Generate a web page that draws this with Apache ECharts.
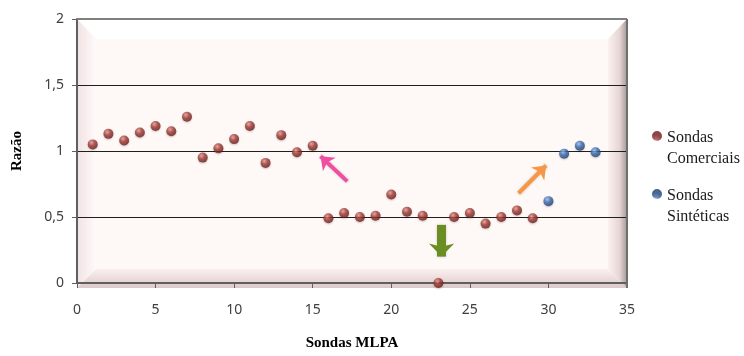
<!DOCTYPE html>
<html>
<head>
<meta charset="utf-8">
<title>Razão</title>
<style>html,body{margin:0;padding:0;background:#fff}#chart{width:744px;height:356px}</style>
</head>
<body>
<div id="chart"></div>
<script src="https://cdn.jsdelivr.net/npm/echarts@6/dist/echarts.min.js"></script>
<script>
// sondas comerciais 1..29, sintéticas 30..33
const comerciaisX = [1,2,3,4,5,6,7,8,9,10,11,12,13,14,15,16,17,18,19,20,21,22,23,24,25,26,27,28,29];
const comerciaisY = [1.05,1.13,1.08,1.14,1.19,1.15,1.26,0.95,1.02,1.09,1.19,0.91,1.12,0.99,1.04,0.49,0.53,0.50,0.51,0.67,0.54,0.51,0,0.50,0.53,0.45,0.50,0.55,0.49];
const sinteticasX = [30,31,32,33];
const sinteticasY = [0.62,0.98,1.04,0.99];
const xTicks = [0,35,5];
const yTicks = [0,2,0.5];

// setas (coordenadas em dados)
const setaRosa = [[17.2,0.77],[15.5,0.96]];
const setaLaranja = [[28.1,0.68],[29.85,0.89]];
const setaVerde = [[23.2,0.44],[23.2,0.20]];

const chart = echarts.init(document.getElementById('chart'));

const G = {l:77, r:627, t:19, b:288, bev:19};
const serif = "'Liberation Serif', 'Times New Roman', serif";

function ball(c1, c2, c3) {
    return {type:'radial', x:0.38, y:0.32, r:0.7, colorStops:[
        {offset:0, color:c1},{offset:0.45, color:c2},{offset:1, color:c3}]};
}

const graphic = [
    // fundo
    {type:'rect', z:-10, shape:{x:G.l,y:G.t,width:G.r-G.l,height:G.b-G.t}, style:{fill:'#fef8f6'}},
    // topo
    {type:'polygon', z:-9, shape:{points:[[G.l,G.t],[G.r,G.t],[G.r-G.bev,G.t+G.bev+1],[G.l+G.bev,G.t+G.bev+1]]}, style:{fill:'#ffffff'}},
    // esquerda
    {type:'polygon', z:-9, shape:{points:[[G.l,G.t],[G.l+G.bev,G.t+G.bev+1],[G.l+G.bev,G.b-G.bev],[G.l,G.b]]},
        style:{fill:{type:'linear',x:0,y:0,x2:1,y2:0,colorStops:[{offset:0,color:'#f1e2e2'},{offset:1,color:'#fffafa'}]}}},
    // base
    {type:'polygon', z:-9, shape:{points:[[G.l,G.b],[G.l+G.bev,G.b-G.bev],[G.r-G.bev,G.b-G.bev],[G.r,G.b]]},
        style:{fill:{type:'linear',x:0,y:0,x2:0,y2:1,colorStops:[{offset:0,color:'#fbf0ef'},{offset:1,color:'#dcc9c9'}]}}},
    // direita
    {type:'polygon', z:-9, shape:{points:[[G.r,G.t],[G.r-G.bev,G.t+G.bev+1],[G.r-G.bev,G.b-G.bev],[G.r,G.b]]},
        style:{fill:{type:'linear',x:0,y:0,x2:1,y2:0,colorStops:[{offset:0,color:'#fcf1ef'},{offset:0.6,color:'#e6d6d6'},{offset:1,color:'#a99a9a'}]}}},
    // moldura
    {type:'line', z:20, shape:{x1:G.l,y1:G.t,x2:G.r,y2:G.t}, style:{stroke:'#7f7f7f',lineWidth:2}},
    {type:'line', z:20, shape:{x1:G.r,y1:G.t,x2:G.r,y2:G.b}, style:{stroke:'#6f6f6f',lineWidth:2}}
];

function seta(pts, color, width, size) {
    return [
        {
            coord: pts[0],
            symbol: 'none',
            lineStyle: {color: color, width: width, type: 'solid', shadowColor: 'rgba(0,0,0,0.2)', shadowBlur: 3},
            itemStyle: {color: color}
        },
        {coord: pts[1], symbol: 'arrow', symbolSize: size, itemStyle: {color: color}}
    ];
}

// circulo no topo de uma caixa alta, para alinhar com a 1a linha da legenda
const iconeLegenda = 'path://M5,0A5,5,0,1,1,5,10A5,5,0,1,1,5,0ZM5,34L5,34Z';

chart.setOption({
    animation: false,
    graphic: graphic,
    grid: {left: G.l, right: 744 - G.r, top: G.t, bottom: 356 - G.b},
    legend: {
        orient: 'vertical',
        left: 647, top: 122,
        itemWidth: 10, itemHeight: 34, itemGap: 16,
        textStyle: {fontFamily: serif, fontSize: 16, color: '#1a1a1a', lineHeight: 21},
        data: [
            {name: 'Sondas\nComerciais', icon: iconeLegenda},
            {name: 'Sondas\nSintéticas', icon: iconeLegenda}
        ]
    },
    xAxis: {
        type: 'value', min: xTicks[0], max: xTicks[1], interval: xTicks[2],
        name: 'Sondas MLPA', nameLocation: 'middle', nameGap: 53,
        nameTextStyle: {fontFamily: serif, fontWeight: 'bold', fontSize: 15, color: '#000'},
        axisLine: {lineStyle: {color: '#5f5f5f', width: 2}},
        axisTick: {show: true, length: 5, lineStyle: {color: '#5f5f5f'}},
        axisLabel: {color: '#404040', fontFamily: 'Noto Sans', fontSize: 14, margin: 20},
        splitLine: {show: false}
    },
    yAxis: {
        type: 'value', min: yTicks[0], max: yTicks[1], interval: yTicks[2],
        name: 'Razão', nameLocation: 'middle', nameGap: 52, nameRotate: 90,
        nameTextStyle: {fontFamily: serif, fontWeight: 'bold', fontSize: 15, color: '#000'},
        axisLine: {show: true, lineStyle: {color: '#5f5f5f', width: 2}},
        axisTick: {show: true, length: 5, lineStyle: {color: '#5f5f5f'}},
        axisLabel: {color: '#404040', fontFamily: 'Noto Sans', fontSize: 14, margin: 13,
            formatter: v => String(v).replace('.', ',')},
        splitLine: {show: true, lineStyle: {color: '#1f1f1f', width: 1}}
    },
    series: [
        {
            name: 'Sondas\nComerciais', type: 'scatter', symbolSize: 10, z: 5,
            data: comerciaisX.map((x, i) => [x, comerciaisY[i]]),
            itemStyle: {color: ball('#e8a09a', '#a33b35', '#6a1c18'), shadowColor: 'rgba(0,0,0,0.25)', shadowBlur: 2, shadowOffsetY: 1},
            markLine: {
                silent: true, animation: false, z: 6,
                label: {show: false},
                data: [
                    seta(setaRosa, '#ef4fa0', 4, [14, 12]),
                    seta(setaLaranja, '#f79646', 4, [14, 12]),
                    seta(setaVerde, '#6b8e23', 9, [19, 13])
                ]
            }
        },
        {
            name: 'Sondas\nSintéticas', type: 'scatter', symbolSize: 10, z: 5,
            data: sinteticasX.map((x, i) => [x, sinteticasY[i]]),
            itemStyle: {color: ball('#a4c0ea', '#3b6db3', '#1d3e70'), shadowColor: 'rgba(0,0,0,0.25)', shadowBlur: 2, shadowOffsetY: 1}
        }
    ]
});
</script>
</body>
</html>
